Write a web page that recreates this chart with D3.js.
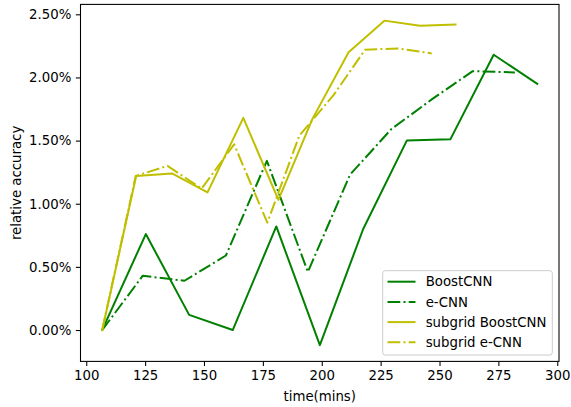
<!DOCTYPE html>
<html>
<head>
<meta charset="utf-8">
<script src="https://cdn.jsdelivr.net/npm/d3@7"></script>
<style>
  html, body { margin: 0; padding: 0; background: #fff; }
  svg { display: block; font-family: "DejaVu Sans", sans-serif; }
</style>
</head>
<body>
<svg id="chart" width="571" height="407"></svg>
<script>
// ---- data (time in minutes, relative accuracy in %) ----
const boostX  = [106.8, 125.3, 143.7, 162.2, 180.7, 199.2, 217.6, 236.1, 254.6, 273.0, 291.5];
const boostY  = [0.00, 0.76, 0.12, 0.00, 0.82, -0.12, 0.80, 1.50, 1.51, 2.18, 1.95];
const ecnnX   = [106.8, 124.0, 141.7, 159.3, 176.7, 194.1, 212.0, 229.5, 247.0, 264.1, 282.0];
const ecnnY   = [0.00, 0.43, 0.39, 0.59, 1.34, 0.46, 1.23, 1.59, 1.83, 2.05, 2.04];
const subBoostX = [106.8, 121.2, 136.4, 151.5, 166.7, 181.6, 196.0, 211.4, 226.6, 241.7, 256.8];
const subBoostY = [0.00, 1.22, 1.24, 1.09, 1.68, 1.03, 1.67, 2.20, 2.45, 2.41, 2.42];
const subEcnnX  = [106.8, 121.0, 134.5, 149.0, 162.8, 176.9, 190.5, 205.0, 218.4, 232.5, 246.7];
const subEcnnY  = [0.00, 1.22, 1.30, 1.12, 1.47, 0.85, 1.54, 1.86, 2.22, 2.23, 2.19];

const xTicks = [100, 125, 150, 175, 200, 225, 250, 275, 300];
const yTicks = [0.0, 0.5, 1.0, 1.5, 2.0, 2.5];

const seriesNames  = ["BoostCNN", "e-CNN", "subgrid BoostCNN", "subgrid e-CNN"];
const seriesColors = ["#008000", "#008000", "#bfbf00", "#bfbf00"];
const seriesDashed = [false, true, false, true];
const seriesXs = [boostX, ecnnX, subBoostX, subEcnnX];
const seriesYs = [boostY, ecnnY, subBoostY, subEcnnY];

// ---- layout ----
const L = 80.5, R = 559, T = 4.4, B = 361.4;
const dash = "12.8,3.2,2,3.2";
const fontSize = 13.3;

const allX = seriesXs.flat(), allY = seriesYs.flat();
const [x0, x1] = d3.extent(allX), [y0, y1] = d3.extent(allY);
const px = (x1 - x0) * 0.05, py = (y1 - y0) * 0.05;

const x = d3.scaleLinear().domain([x0 - px, x1 + px]).range([L, R]);
const y = d3.scaleLinear().domain([y0 - py, y1 + py]).range([B, T]);

const svg = d3.select("#chart");

// lines
const line = d3.line().x(d => x(d[0])).y(d => y(d[1]));
seriesNames.forEach((name, i) => {
  const pts = seriesXs[i].map((v, j) => [v, seriesYs[i][j]]);
  svg.append("path")
    .datum(pts)
    .attr("d", line)
    .attr("fill", "none")
    .attr("stroke", seriesColors[i])
    .attr("stroke-width", 2)
    .attr("stroke-linejoin", "round")
    .attr("stroke-linecap", seriesDashed[i] ? "butt" : "square")
    .attr("stroke-dasharray", seriesDashed[i] ? dash : null);
});

// axes
const xAxis = d3.axisBottom(x).tickValues(xTicks).tickSize(4.7).tickPadding(4.5).tickFormat(d3.format("d"));
const yAxis = d3.axisLeft(y).tickValues(yTicks).tickSize(4.7).tickPadding(4.5).tickFormat(d => d.toFixed(2) + "%");

const gx = svg.append("g").attr("transform", `translate(0,${B})`).call(xAxis);
const gy = svg.append("g").attr("transform", `translate(${L},0)`).call(yAxis);
[gx, gy].forEach(g => {
  g.select(".domain").remove();
  g.selectAll(".tick line").attr("stroke", "#000").attr("stroke-width", 1.07);
  g.selectAll(".tick text").attr("fill", "#000").style("font-size", fontSize + "px").style("font-family", "DejaVu Sans");
});

// frame
svg.append("rect")
  .attr("x", L).attr("y", T).attr("width", R - L).attr("height", B - T)
  .attr("fill", "none").attr("stroke", "#000").attr("stroke-width", 1.07);

// axis labels
svg.append("text")
  .attr("x", (L + R) / 2).attr("y", 400.5)
  .attr("text-anchor", "middle")
  .style("font-size", fontSize + "px")
  .text("time(mins)");
svg.append("text")
  .attr("transform", `translate(20.5,${(T + B) / 2}) rotate(-90)`)
  .attr("text-anchor", "middle")
  .style("font-size", fontSize + "px")
  .text("relative accuracy");

// legend
const lg = svg.append("g");
lg.append("rect")
  .attr("x", 382.7).attr("y", 270.7).attr("width", 169.6).attr("height", 84.3)
  .attr("rx", 2.5).attr("ry", 2.5)
  .attr("fill", "#fff").attr("fill-opacity", 0.8)
  .attr("stroke", "#cccccc").attr("stroke-width", 1);
seriesNames.forEach((name, i) => {
  const cy = 281.7 + i * 20.2;
  lg.append("line")
    .attr("x1", 387.5).attr("x2", 415.5).attr("y1", cy).attr("y2", cy)
    .attr("stroke", seriesColors[i]).attr("stroke-width", 2)
    .attr("stroke-dasharray", seriesDashed[i] ? dash : null);
  lg.append("text")
    .attr("x", 425.7).attr("y", cy + 4.7)
    .style("font-size", fontSize + "px")
    .text(name);
});
</script>
</body>
</html>
